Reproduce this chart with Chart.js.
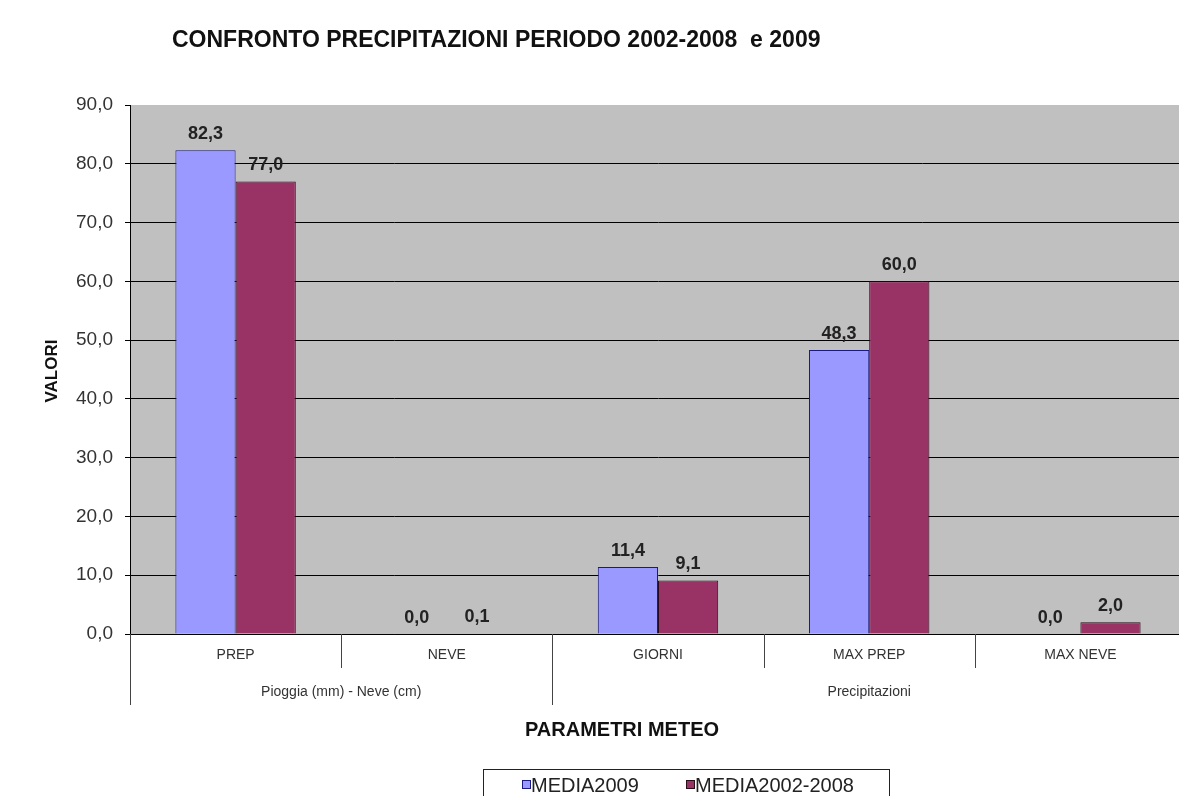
<!DOCTYPE html>
<html>
<head>
<meta charset="utf-8">
<script src="https://cdn.jsdelivr.net/npm/chart.js@4.4.1/dist/chart.umd.min.js"></script>
<style>
  html, body { margin: 0; padding: 0; background: #fff; overflow: hidden; }
  #wrap { width: 1186px; height: 796px; }
</style>
</head>
<body>
<div id="wrap"><canvas id="precChart" width="1186" height="796"></canvas></div>
<script>
const categories = ['PREP', 'NEVE', 'GIORNI', 'MAX PREP', 'MAX NEVE'];
const media2009 = [82.3, 0.0, 11.4, 48.3, 0.0];
const media2002_2008 = [77.0, 0.1, 9.1, 60.0, 2.0];
const groupLabels = ['Pioggia (mm) - Neve (cm)', 'Precipitazioni'];
const groupRanges = [[0, 1], [2, 4]];
const yMin = 0, yMax = 90, yStep = 10;

const FONT = "'Liberation Sans', Arial, sans-serif";
Chart.defaults.font.family = FONT;

const fmt = v => v.toFixed(1).replace('.', ',');

// grey plot area like the old spreadsheet charts
const plotBackground = {
    id: 'plotBackground',
    beforeDraw(chart) {
        const { ctx, chartArea: a } = chart;
        ctx.save();
        ctx.fillStyle = '#c0c0c0';
        ctx.fillRect(a.left, a.top, a.right - a.left, a.bottom - a.top);
        ctx.restore();
    }
};

// value labels over each bar
const barValues = {
    id: 'barValues',
    afterDatasetsDraw(chart) {
        const ctx = chart.ctx;
        ctx.save();
        ctx.font = 'bold 18px ' + FONT;
        ctx.fillStyle = '#222';
        ctx.textAlign = 'center';
        ctx.textBaseline = 'middle';
        chart.data.datasets.forEach((ds, i) => {
            chart.getDatasetMeta(i).data.forEach((bar, j) => {
                ctx.fillText(fmt(ds.data[j]), bar.x, bar.y - 16);
            });
        });
        ctx.restore();
    }
};

// category separators, group row, titles and boxed legend
const decorations = {
    id: 'decorations',
    afterDraw(chart) {
        const { ctx, chartArea: a } = chart;
        const x = chart.scales.x;
        const half = (x.getPixelForValue(1) - x.getPixelForValue(0)) / 2;
        ctx.save();

        ctx.strokeStyle = '#444';
        ctx.lineWidth = 1;
        for (let i = 0; i <= categories.length; i++) {
            const px = Math.round(x.getPixelForValue(i) - half) + 0.5;
            const isGroupEdge = i === 0 || groupRanges.some(r => r[0] === i);
            ctx.beginPath();
            ctx.moveTo(px, a.bottom);
            ctx.lineTo(px, isGroupEdge ? a.bottom + 71 : a.bottom + 34);
            ctx.stroke();
        }

        ctx.fillStyle = '#333';
        ctx.font = '14px ' + FONT;
        ctx.textAlign = 'center';
        ctx.textBaseline = 'middle';
        groupRanges.forEach((r, g) => {
            const cx = (x.getPixelForValue(r[0]) + x.getPixelForValue(r[1])) / 2;
            ctx.fillText(groupLabels[g], cx, a.bottom + 58);
        });

        ctx.fillStyle = '#111';
        ctx.font = 'bold 23px ' + FONT;
        ctx.textAlign = 'left';
        ctx.fillText('CONFRONTO PRECIPITAZIONI PERIODO 2002-2008  e 2009', 172, 41);

        ctx.font = 'bold 20px ' + FONT;
        ctx.textAlign = 'center';
        ctx.fillText('PARAMETRI METEO', 622, 730);

        ctx.save();
        ctx.translate(52, 371);
        ctx.rotate(-Math.PI / 2);
        ctx.font = 'bold 17px ' + FONT;
        ctx.fillText('VALORI', 0, 0);
        ctx.restore();

        // legend
        ctx.strokeStyle = '#222';
        ctx.strokeRect(483.5, 769.5, 406, 40);
        ctx.font = '20px ' + FONT;
        ctx.textAlign = 'left';
        const items = chart.data.datasets.map(ds => [ds.label, ds.backgroundColor, ds.borderColor]);
        const itemX = [522, 686];
        items.forEach((it, k) => {
            ctx.fillStyle = it[1];
            ctx.fillRect(itemX[k], 780, 9, 9);
            ctx.strokeStyle = it[2];
            ctx.strokeRect(itemX[k] + 0.5, 780.5, 8, 8);
            ctx.fillStyle = '#222';
            ctx.fillText(it[0], itemX[k] + 9, 786);
        });

        ctx.restore();
    }
};

new Chart(document.getElementById('precChart'), {
    type: 'bar',
    data: {
        labels: categories,
        datasets: [{
            label: 'MEDIA2009',
            data: media2009,
            backgroundColor: '#9999ff',
            borderColor: '#1a1a80',
            borderWidth: 1,
            borderSkipped: 'bottom',
            barPercentage: 1,
            categoryPercentage: 0.57
        }, {
            label: 'MEDIA2002-2008',
            data: media2002_2008,
            backgroundColor: '#993366',
            borderColor: '#2a0c18',
            borderWidth: 1,
            borderSkipped: 'bottom',
            barPercentage: 1,
            categoryPercentage: 0.57
        }]
    },
    options: {
        responsive: false,
        animation: false,
        layout: { padding: { top: 105, left: 0, right: 0, bottom: 0 } },
        plugins: {
            legend: { display: false },
            tooltip: { enabled: false }
        },
        scales: {
            x: {
                grid: { display: false, drawTicks: false },
                border: { display: true, color: '#000', width: 1 },
                ticks: { color: '#333', font: { size: 14 }, padding: 13 },
                afterFit(scale) { scale.height = 162; }
            },
            y: {
                min: yMin,
                max: yMax,
                ticks: {
                    stepSize: yStep,
                    color: '#333',
                    font: { size: 19 },
                    padding: 12,
                    callback: v => fmt(v)
                },
                grid: {
                    color: c => c.tick && c.tick.value === yMax ? 'rgba(0,0,0,0)' : '#000',
                    tickColor: '#000',
                    tickLength: 5,
                    lineWidth: 1
                },
                border: { display: true, color: '#000', width: 1 },
                afterFit(scale) { scale.width = 130; }
            }
        }
    },
    plugins: [plotBackground, barValues, decorations]
});
</script>
</body>
</html>
